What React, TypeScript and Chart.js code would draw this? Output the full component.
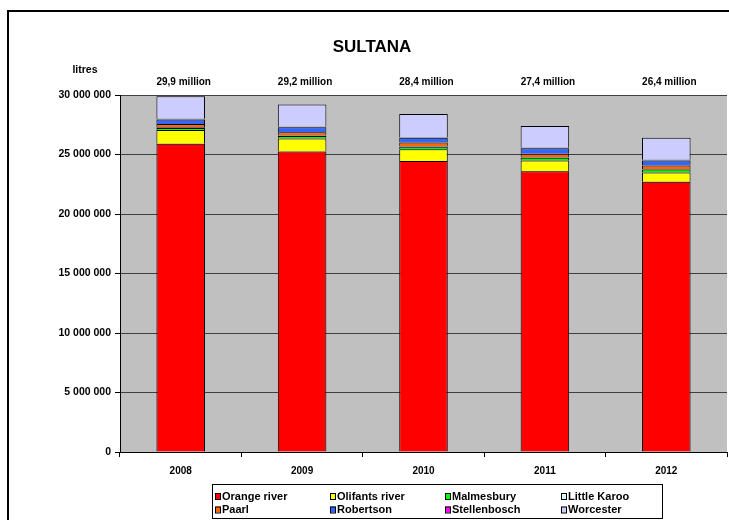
import React, { useEffect, useRef } from 'react';
import { Chart, registerables } from 'chart.js';

Chart.register(...registerables);

// ---- data (litres) ----
const years = ['2008', '2009', '2010', '2011', '2012'];
const orangeRiver = [25900000, 25250000, 24450000, 23600000, 22700000];
const olifantsRiver = [1150000, 1100000, 1000000, 900000, 780000];
const malmesbury = [180000, 200000, 200000, 220000, 250000];
const stellenbosch = [50000, 50000, 50000, 50000, 50000];
const paarl = [280000, 280000, 300000, 300000, 300000];
const robertson = [380000, 400000, 400000, 450000, 420000];
const littleKaroo = [60000, 50000, 50000, 50000, 50000];
const worcester = [1900000, 1870000, 1950000, 1830000, 1850000];

const yTicks = [0, 5000000, 10000000, 15000000, 20000000, 25000000, 30000000];
const legendOrder = [
  'Orange river', 'Olifants river', 'Malmesbury', 'Little Karoo',
  'Paarl', 'Robertson', 'Stellenbosch', 'Worcester',
];

const FONT = "'Liberation Sans', Arial, Helvetica, sans-serif";

const fmtSpace = (v: number) =>
  Math.round(v).toString().replace(/\B(?=(\d{3})+(?!\d))/g, ' ');

export default function App() {
  const ref = useRef<HTMLCanvasElement>(null);

  useEffect(() => {
    const canvas = ref.current;
    if (!canvas) return;

    const series = [
      { label: 'Orange river', data: orangeRiver, color: '#FF0000' },
      { label: 'Olifants river', data: olifantsRiver, color: '#FFFF00' },
      { label: 'Malmesbury', data: malmesbury, color: '#00FF00' },
      { label: 'Stellenbosch', data: stellenbosch, color: '#FF00FF' },
      { label: 'Paarl', data: paarl, color: '#FF6600' },
      { label: 'Robertson', data: robertson, color: '#3366FF' },
      { label: 'Little Karoo', data: littleKaroo, color: '#CCFFFF' },
      { label: 'Worcester', data: worcester, color: '#CCCCFF' },
    ];

    const bgPlugin = {
      id: 'plotBg',
      beforeDraw(chart: any) {
        const { ctx, chartArea: a } = chart;
        ctx.save();
        ctx.fillStyle = '#C0C0C0';
        ctx.fillRect(a.left, a.top, a.right - a.left, a.bottom - a.top);
        ctx.restore();
      },
    };

    const annotPlugin = {
      id: 'annot',
      afterDraw(chart: any) {
        const { ctx, chartArea: a } = chart;
        const xs = chart.scales.x;
        ctx.save();
        ctx.fillStyle = '#000';
        ctx.textAlign = 'center';
        ctx.textBaseline = 'middle';

        // title
        ctx.font = `bold 17px ${FONT}`;
        ctx.fillText('SULTANA', 372, 47);

        // axis unit
        ctx.font = `bold 10.5px ${FONT}`;
        ctx.fillText('litres', 85, 70);

        // totals
        ctx.font = `bold 10px ${FONT}`;
        years.forEach((_, i) => {
          let total = 0;
          chart.data.datasets.forEach((ds: any) => (total += ds.data[i]));
          const txt = (total / 1e6).toFixed(1).replace('.', ',') + ' million';
          ctx.fillText(txt, xs.getPixelForValue(i) + 3, a.top - 13);
        });

        // legend
        ctx.lineWidth = 1;
        ctx.strokeStyle = '#000';
        ctx.strokeRect(212.5, 484.5, 450, 34);
        const colX = [215, 330, 445, 561];
        const rowY = [496, 509.5];
        ctx.font = `bold 11px ${FONT}`;
        ctx.textAlign = 'left';
        legendOrder.forEach((name, i) => {
          const ds = chart.data.datasets.find((d: any) => d.label === name);
          const x = colX[i % 4];
          const y = rowY[Math.floor(i / 4)];
          ctx.fillStyle = ds.backgroundColor;
          ctx.fillRect(x, y - 3, 6, 6);
          ctx.strokeRect(x + 0.5, y - 2.5, 5, 6);
          ctx.fillStyle = '#000';
          ctx.fillText(name, x + 7, y + 0.5);
        });
        ctx.restore();
      },
    };

    const chart = new Chart(canvas, {
      type: 'bar',
      data: {
        labels: years,
        datasets: series.map((s) => ({
          label: s.label,
          data: s.data,
          backgroundColor: s.color,
          borderColor: '#000000',
          borderWidth: 1,
          barPercentage: 0.4,
          categoryPercentage: 1,
        })),
      },
      options: {
        responsive: false,
        animation: false,
        devicePixelRatio: 1,
        layout: { padding: { left: 0, right: 2, top: 95, bottom: 38 } },
        plugins: {
          legend: { display: false },
          title: { display: false },
          tooltip: { enabled: false },
        },
        scales: {
          x: {
            stacked: true,
            offset: true,
            border: { display: true, color: '#000', width: 1 },
            grid: {
              offset: true,
              drawOnChartArea: false,
              drawTicks: true,
              tickLength: 5,
              tickColor: '#000',
            },
            ticks: {
              color: '#000',
              padding: 8,
              font: { family: FONT, size: 10, weight: 'bold' },
              maxRotation: 0,
            },
            afterFit(scale: any) {
              scale.height = 30;
            },
          },
          y: {
            stacked: true,
            min: 0,
            max: 30000000,
            border: { display: true, color: '#000', width: 1 },
            grid: {
              color: '#404040',
              lineWidth: 1,
              drawTicks: true,
              tickLength: 5,
              tickColor: '#000',
            },
            afterBuildTicks(scale: any) {
              scale.ticks = yTicks.map((v) => ({ value: v }));
            },
            ticks: {
              color: '#000',
              padding: 4,
              font: { family: FONT, size: 10.5, weight: 'bold' },
              callback: (v: any) => fmtSpace(Number(v)),
            },
            afterFit(scale: any) {
              scale.width = 120;
            },
          },
        },
      },
      plugins: [bgPlugin, annotPlugin],
    } as any);

    return () => chart.destroy();
  }, []);

  return (
    <div
      style={{
        position: 'absolute',
        left: 0,
        top: 0,
        width: 729,
        height: 520,
        overflow: 'hidden',
        background: '#fff',
      }}
    >
      <div
        style={{
          position: 'absolute',
          left: 7,
          top: 10,
          width: 900,
          height: 700,
          border: '2px solid #000',
          boxSizing: 'border-box',
        }}
      />
      <canvas
        ref={ref}
        width={729}
        height={520}
        style={{ position: 'absolute', left: 0, top: 0, width: 729, height: 520 }}
      />
    </div>
  );
}
